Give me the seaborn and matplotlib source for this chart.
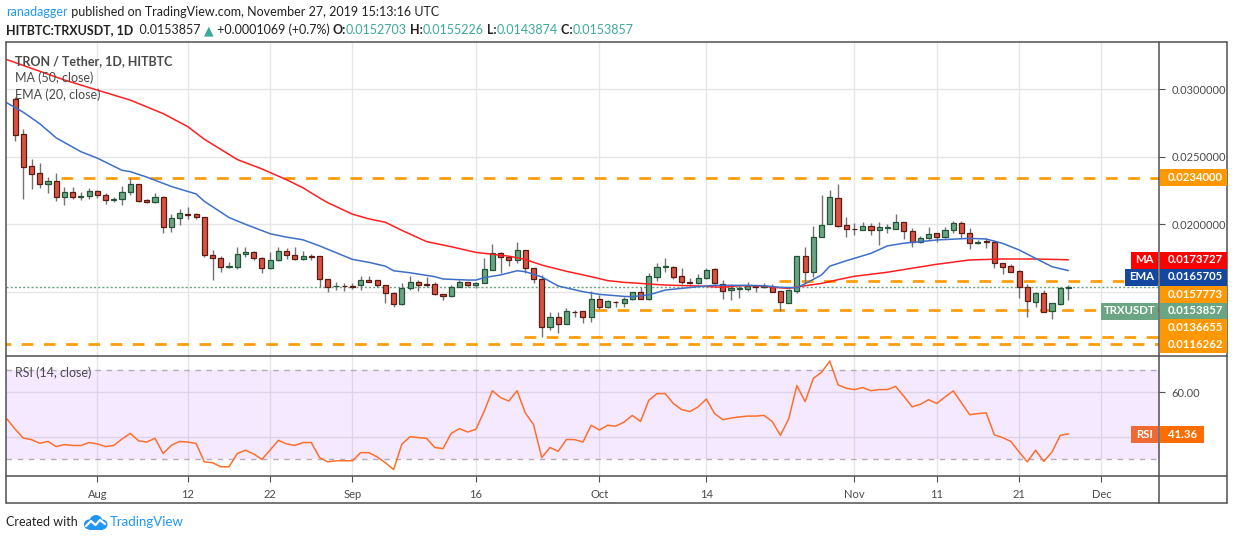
import numpy as np
import pandas as pd
import matplotlib
matplotlib.use("Agg")
import matplotlib.pyplot as plt
import matplotlib.dates as mdates
from matplotlib.patches import Rectangle, Circle
from matplotlib.lines import Line2D
import seaborn as sns

# ---------------- data ----------------
first_day = "2019-07-22"
opens = [0.02926, 0.02666, 0.02429, 0.02377, 0.02296, 0.02318, 0.02200, 0.02237, 0.02200, 0.02207,
         0.02244, 0.02215, 0.02178, 0.02185, 0.02237, 0.02296, 0.02178, 0.02163, 0.02200, 0.01978,
         0.02044, 0.02074, 0.02074, 0.02054, 0.01770, 0.01748, 0.01686, 0.01686, 0.01778, 0.01792,
         0.01748, 0.01679, 0.01733, 0.01800, 0.01770, 0.01741, 0.01765, 0.01763, 0.01592, 0.01543,
         0.01545, 0.01540, 0.01548, 0.01587, 0.01587, 0.01548, 0.01489, 0.01407, 0.01526, 0.01570,
         0.01555, 0.01555, 0.01483, 0.01471, 0.01538, 0.01570, 0.01548, 0.01564, 0.01662, 0.01785,
         0.01755, 0.01733, 0.01807, 0.01674, 0.01592, 0.01242, 0.01314, 0.01261, 0.01352, 0.01355,
         0.01316, 0.01447, 0.01385, 0.01425, 0.01419, 0.01444, 0.01496, 0.01444, 0.01612, 0.01686,
         0.01686, 0.01615, 0.01570, 0.01562, 0.01600, 0.01666, 0.01555, 0.01510, 0.01522, 0.01522,
         0.01545, 0.01535, 0.01538, 0.01503, 0.01420, 0.01508, 0.01765, 0.01649, 0.01908, 0.02000,
         0.02192, 0.01992, 0.01968, 0.01960, 0.01985, 0.01960, 0.01974, 0.01968, 0.02015, 0.01950,
         0.01871, 0.01896, 0.01933, 0.01903, 0.01960, 0.02010, 0.01938, 0.01863, 0.01873, 0.01871,
         0.01711, 0.01691, 0.01654, 0.01533, 0.01427, 0.01494, 0.01360, 0.01407, 0.0152703]
highs = [0.02945, 0.02703, 0.02484, 0.02454, 0.02348, 0.02377, 0.02274, 0.02274, 0.02237, 0.02266,
         0.02252, 0.02229, 0.02205, 0.02284, 0.02341, 0.02300, 0.02185, 0.02229, 0.02207, 0.02076,
         0.02116, 0.02128, 0.02081, 0.02056, 0.01807, 0.01763, 0.01723, 0.01829, 0.01829, 0.01800,
         0.01755, 0.01792, 0.01829, 0.01822, 0.01829, 0.01800, 0.01778, 0.01765, 0.01595, 0.01573,
         0.01564, 0.01564, 0.01615, 0.01615, 0.01590, 0.01550, 0.01501, 0.01564, 0.01615, 0.01587,
         0.01610, 0.01575, 0.01486, 0.01550, 0.01587, 0.01575, 0.01570, 0.01750, 0.01854, 0.01795,
         0.01765, 0.01869, 0.01810, 0.01680, 0.01624, 0.01353, 0.01350, 0.01378, 0.01366, 0.01360,
         0.01506, 0.01476, 0.01439, 0.01434, 0.01464, 0.01501, 0.01538, 0.01637, 0.01716, 0.01748,
         0.01690, 0.01674, 0.01605, 0.01630, 0.01674, 0.01674, 0.01587, 0.01555, 0.01548, 0.01573,
         0.01547, 0.01562, 0.01555, 0.01505, 0.01518, 0.01765, 0.01834, 0.01987, 0.02217, 0.02254,
         0.02299, 0.02057, 0.02007, 0.02017, 0.02012, 0.02017, 0.02000, 0.02076, 0.02017, 0.01970,
         0.01913, 0.01982, 0.01935, 0.01982, 0.02024, 0.02024, 0.01970, 0.01881, 0.01896, 0.01881,
         0.01715, 0.01703, 0.01661, 0.01558, 0.01501, 0.01513, 0.01420, 0.01538, 0.0155226]
lows = [0.02619, 0.02185, 0.02264, 0.02271, 0.02234, 0.02170, 0.02141, 0.02185, 0.02178, 0.02190,
        0.02193, 0.02153, 0.02163, 0.02141, 0.02215, 0.02163, 0.02155, 0.02155, 0.01938, 0.01945,
        0.01997, 0.02042, 0.02042, 0.01755, 0.01590, 0.01649, 0.01674, 0.01672, 0.01761, 0.01733,
        0.01637, 0.01672, 0.01728, 0.01741, 0.01733, 0.01733, 0.01733, 0.01538, 0.01501, 0.01513,
        0.01508, 0.01520, 0.01513, 0.01570, 0.01538, 0.01419, 0.01390, 0.01405, 0.01513, 0.01508,
        0.01538, 0.01476, 0.01439, 0.01464, 0.01533, 0.01533, 0.01526, 0.01564, 0.01660, 0.01642,
        0.01694, 0.01716, 0.01642, 0.01564, 0.01163, 0.01217, 0.01197, 0.01260, 0.01314, 0.01271,
        0.01278, 0.01373, 0.01380, 0.01390, 0.01390, 0.01440, 0.01444, 0.01437, 0.01582, 0.01649,
        0.01595, 0.01558, 0.01558, 0.01558, 0.01595, 0.01558, 0.01447, 0.01439, 0.01457, 0.01505,
        0.01498, 0.01526, 0.01500, 0.01360, 0.01420, 0.01494, 0.01568, 0.01612, 0.01905, 0.02000,
        0.01982, 0.01908, 0.01921, 0.01957, 0.01921, 0.01847, 0.01937, 0.01963, 0.01891, 0.01834,
        0.01863, 0.01891, 0.01871, 0.01900, 0.01933, 0.01896, 0.01817, 0.01851, 0.01825, 0.01674,
        0.01632, 0.01644, 0.01452, 0.01316, 0.01390, 0.01350, 0.01296, 0.01405, 0.0143874]
closes = [0.02659, 0.02422, 0.02375, 0.02296, 0.02318, 0.02200, 0.02237, 0.02205, 0.02212, 0.02244,
          0.02215, 0.02178, 0.02190, 0.02237, 0.02296, 0.02175, 0.02163, 0.02200, 0.01978, 0.02044,
          0.02081, 0.02072, 0.02052, 0.01770, 0.01748, 0.01686, 0.01688, 0.01778, 0.01792, 0.01748,
          0.01674, 0.01733, 0.01800, 0.01770, 0.01741, 0.01763, 0.01760, 0.01592, 0.01538, 0.01545,
          0.01540, 0.01538, 0.01587, 0.01575, 0.01548, 0.01489, 0.01407, 0.01526, 0.01570, 0.01553,
          0.01553, 0.01481, 0.01471, 0.01538, 0.01570, 0.01548, 0.01564, 0.01666, 0.01785, 0.01755,
          0.01733, 0.01807, 0.01674, 0.01592, 0.01242, 0.01316, 0.01261, 0.01355, 0.01350, 0.01316,
          0.01447, 0.01390, 0.01432, 0.01422, 0.01444, 0.01496, 0.01444, 0.01615, 0.01686, 0.01688,
          0.01612, 0.01575, 0.01566, 0.01600, 0.01661, 0.01562, 0.01508, 0.01531, 0.01531, 0.01545,
          0.01533, 0.01545, 0.01501, 0.01427, 0.01513, 0.01765, 0.01649, 0.01903, 0.01992, 0.02200,
          0.01987, 0.01968, 0.01963, 0.01985, 0.01960, 0.01977, 0.01977, 0.02015, 0.01950, 0.01871,
          0.01896, 0.01928, 0.01903, 0.01960, 0.02010, 0.01938, 0.01859, 0.01866, 0.01868, 0.01711,
          0.01686, 0.01649, 0.01533, 0.01432, 0.01494, 0.01353, 0.01415, 0.01528, 0.0153857]

# 50-day MA and 20-day EMA (day offset from first_day, value)
ma_day = [-1, 6, 10, 14, 16, 18, 21, 23, 27, 30, 33, 35, 37, 38, 41, 43, 45, 47, 50, 53, 56, 57,
          60, 62, 64, 67, 70, 72, 74, 77, 79, 83, 86, 88, 91, 92, 94, 96, 98, 100, 102, 106, 108,
          112, 116, 120, 124, 128]
ma_val = [0.03220, 0.03069, 0.02994, 0.02920, 0.02870, 0.02820, 0.02723, 0.02630, 0.02480, 0.02410,
          0.02330, 0.02270, 0.02195, 0.02160, 0.02075, 0.02040, 0.02015, 0.01955, 0.01872, 0.01834,
          0.01792, 0.01785, 0.01764, 0.01740, 0.01698, 0.01652, 0.01612, 0.01583, 0.01570, 0.01558,
          0.01550, 0.01543, 0.01533, 0.01545, 0.01543, 0.01533, 0.01526, 0.01545, 0.01562, 0.01590,
          0.01615, 0.01645, 0.01665, 0.01704, 0.01736, 0.01743, 0.01743, 0.0173727]
ema_day = [-1, 1, 3, 5, 8, 10, 13, 14, 16, 19, 22, 23, 26, 28, 31, 33, 35, 37, 41, 43, 45, 46, 48,
           51, 52, 55, 56, 57, 59, 61, 62, 64, 66, 69, 71, 74, 75, 77, 79, 83, 85, 89, 91, 93, 95,
           96, 98, 99, 101, 104, 106, 108, 112, 116, 118, 120, 122, 124, 126, 128]
ema_val = [0.02900, 0.02830, 0.02745, 0.02640, 0.02538, 0.02490, 0.02400, 0.02390, 0.02350, 0.02280,
           0.02225, 0.02170, 0.02050, 0.02000, 0.01930, 0.01905, 0.01885, 0.01840, 0.01740, 0.01718,
           0.01690, 0.01656, 0.01641, 0.01612, 0.01595, 0.01587, 0.01587, 0.01605, 0.01625, 0.01656,
           0.01649, 0.01610, 0.01543, 0.01501, 0.01481, 0.01466, 0.01464, 0.01477, 0.01513, 0.01538,
           0.01548, 0.01548, 0.01545, 0.01533, 0.01530, 0.01560, 0.01625, 0.01690, 0.01730, 0.01785,
           0.01840, 0.01860, 0.01884, 0.01896, 0.01891, 0.01859, 0.01810, 0.01748, 0.01686, 0.0165705]

# RSI(14), one value per day starting the day before first_day
rsi_first_day = "2019-07-21"
rsi_vals = [48.1, 43.5, 39.5, 38.8, 37.2, 38.0, 35.7, 36.6, 36.2, 36.2, 37.5, 36.9, 35.7, 36.2, 39.1,
            41.6, 38.3, 37.7, 39.4, 32.6, 36.3, 38.0, 37.7, 37.1, 28.9, 28.5, 26.7, 26.7, 32.6, 34.1,
            32.4, 30.0, 34.2, 38.5, 36.9, 36.2, 37.5, 37.5, 30.8, 28.9, 29.4, 29.4, 29.4, 33.0, 33.0,
            31.1, 28.5, 25.5, 36.8, 40.1, 39.7, 39.4, 35.3, 34.8, 41.6, 43.7, 42.2, 43.4, 51.4, 60.6,
            57.5, 56.0, 60.6, 50.7, 45.5, 30.8, 35.3, 33.6, 38.9, 38.8, 37.7, 45.2, 43.1, 45.2, 44.8,
            46.6, 49.6, 46.9, 56.3, 59.3, 59.3, 54.8, 52.2, 51.3, 53.4, 56.9, 50.4, 47.7, 48.4, 48.9,
            49.3, 49.3, 49.6, 46.9, 40.7, 48.0, 62.9, 55.7, 66.1, 68.8, 73.8, 63.2, 61.7, 61.1, 62.0,
            60.6, 61.1, 61.1, 62.5, 58.1, 53.4, 54.5, 56.6, 54.9, 57.8, 60.5, 55.2, 49.9, 50.4, 50.7,
            40.9, 39.7, 38.0, 33.3, 28.9, 34.1, 29.1, 33.3, 40.7, 41.36]

# horizontal levels drawn on the chart and the date each one starts at
level_vals = [0.0234000, 0.0157773, 0.0136655, 0.0116262, 0.0111300]
level_start = ["2019-07-27 14:00", "2019-10-22 19:00", "2019-09-30 10:00", "2019-09-21 19:00", "2019-07-20"]
level_labels = ["0.0234000", "0.0157773", "0.0136655", "0.0116262"]

time_ticks = ["2019-08-01", "2019-08-12", "2019-08-22", "2019-09-01", "2019-09-16", "2019-10-01",
              "2019-10-14", "2019-11-01", "2019-11-11", "2019-11-21", "2019-12-01"]
time_labels = ["Aug", "12", "22", "Sep", "16", "Oct", "14", "Nov", "11", "21", "Dec"]
price_ticks = [0.020, 0.025, 0.030]
price_grid = [0.015, 0.020, 0.025, 0.030]

# ---------------- figure ----------------
W, H = 1234, 540
sns.set_theme(style="white")
plt.rcParams['font.family'] = ['Lato', 'DejaVu Sans']

UP, UP_EDGE = "#6BA583", "#225437"
DN, DN_EDGE = "#D75442", "#5B1A13"
WICK = "#737375"
ORANGE = "#FF9800"
GRID = "#E6E6E6"
FRAME = "#4F4F4F"
TXT = "#4A4A4A"

fig = plt.figure(figsize=(W / 100, H / 100), dpi=100)
fig.patch.set_facecolor("white")


def fx(x):
    return x / W


def fy(y):
    return 1 - y / H


L, R = 6, 1159
ax = fig.add_axes([fx(L), fy(355), (R - L) / W, (355 - 42) / H])
axr = fig.add_axes([fx(L), fy(476), (R - L) / W, (476 - 355) / H], sharex=ax)

dates = pd.date_range(first_day, periods=len(opens), freq="D")
o = np.array(opens); h = np.array(highs); lo = np.array(lows); c = np.array(closes)
up = c >= o
x0 = pd.Timestamp("2019-08-01")
xlim = (mdates.date2num(x0 - pd.Timedelta(days=11.1)), mdates.date2num(x0 + pd.Timedelta(days=129.0)))
tick_dates = pd.to_datetime(time_ticks)

for a in (ax, axr):
    a.set_facecolor("white")
    for s in a.spines.values():
        s.set_visible(False)
    for t in tick_dates:
        a.axvline(t, color=GRID, lw=1, zorder=0)

for g in price_grid:
    ax.axhline(g, color=GRID, lw=1, zorder=0)

# levels
for v, s in zip(level_vals, level_start):
    ax.hlines(v, mdates.date2num(pd.Timestamp(s)), xlim[1], color=ORANGE, lw=2.0,
              linestyles=[(0, (4.2, 3.8))], zorder=1, alpha=0.95)

# last price dotted line
ax.axhline(closes[-1], color=UP, lw=1, ls=(0, (1.5, 1.5)), zorder=1.5)

# candles
ax.vlines(dates, lo, h, color=WICK, lw=1.0, zorder=2)
body_lo = np.minimum(o, c); body_h = np.abs(c - o)
ax.bar(dates[up], body_h[up], bottom=body_lo[up], width=0.62, color=UP, edgecolor=UP_EDGE,
       linewidth=0.9, zorder=3)
ax.bar(dates[~up], body_h[~up], bottom=body_lo[~up], width=0.62, color=DN, edgecolor=DN_EDGE,
       linewidth=0.9, zorder=3)

# MA / EMA
ma_dates = pd.Timestamp(first_day) + pd.to_timedelta(ma_day, unit="D")
ema_dates = pd.Timestamp(first_day) + pd.to_timedelta(ema_day, unit="D")
sns.lineplot(x=ma_dates, y=ma_val, ax=ax, color="#FF1F1F", lw=1.1, zorder=4)
sns.lineplot(x=ema_dates, y=ema_val, ax=ax, color="#3D6FC9", lw=1.1, zorder=4)

ax.set_xlim(*xlim)
ax.set_ylim(0.010319, 0.033504)
ax.yaxis.tick_right()
ax.set_yticks(price_ticks)
ax.set_yticklabels([f"{v:.7f}" for v in price_ticks])
ax.tick_params(axis="y", right=True, left=False, length=4, width=0.8, color=FRAME, pad=5,
               labelsize=8, labelcolor=TXT)
ax.tick_params(axis="x", bottom=False, labelbottom=False)
ax.set_xlabel(""); ax.set_ylabel("")

# RSI pane
axr.axhspan(30, 70, color="#9915FF", alpha=0.09, lw=0, zorder=1)
for g in (40, 60):
    axr.axhline(g, color="#DCD3E6", lw=1, zorder=1.2)
for g in (30, 70):
    axr.axhline(g, color="#B3ABBC", lw=1, ls=(0, (4, 4)), zorder=1.3)
rsi_dates = pd.date_range(rsi_first_day, periods=len(rsi_vals), freq="D")
sns.lineplot(x=rsi_dates, y=rsi_vals, ax=axr, color="#FF6F2C", lw=1.1, zorder=3)
axr.set_ylim(22.6, 76.5)
axr.yaxis.tick_right()
axr.set_yticks([60])
axr.set_yticklabels(["60.00"])
axr.tick_params(axis="y", right=True, left=False, length=4, width=0.8, color=FRAME, pad=5,
                labelsize=8, labelcolor=TXT)
axr.set_xticks(tick_dates)
axr.set_xticklabels(time_labels)
axr.tick_params(axis="x", bottom=True, length=4, width=0.8, color=FRAME, pad=5,
                labelsize=8, labelcolor=TXT)
axr.set_xlim(*xlim)
axr.set_xlabel(""); axr.set_ylabel("")

# frame lines
def fline(xa, ya, xb, yb, **kw):
    fig.add_artist(Line2D([fx(xa), fx(xb)], [fy(ya), fy(yb)], color=FRAME, lw=1.1, **kw))

fline(6, 42, 1227, 42); fline(6, 503, 1227, 503)
fline(6, 42, 6, 503); fline(1227, 42, 1227, 503)
fline(6, 355.5, 1227, 355.5); fline(6, 476, 1227, 476)
fline(1159, 42, 1159, 503)

# price label boxes
def box(xa, xb, yc, color, text, hh=17, align="left", tx=None):
    fig.add_artist(Rectangle((fx(xa), fy(yc + hh / 2)), (xb - xa) / W, hh / H,
                             facecolor=color, edgecolor="none", zorder=10))
    if align == "left":
        fig.text(fx(tx if tx else xa + 8), fy(yc), text, color="white", fontsize=8.2,
                 fontweight="bold", ha="left", va="center", zorder=11)
    else:
        fig.text(fx((xa + xb) / 2), fy(yc), text, color="white", fontsize=8.2,
                 fontweight="bold", ha="center", va="center", zorder=11)

box(1160, 1227, 177.7, ORANGE, level_labels[0])
box(1131, 1158, 260, "#FF0000", "MA", align="center")
box(1160, 1227, 260, "#FF0000", "0.0173727")
box(1125, 1158, 277, "#1447A0", "EMA", align="center")
box(1160, 1227, 277, "#1447A0", "0.0165705")
box(1160, 1227, 294, ORANGE, level_labels[1])
box(1101, 1158, 311, "#6BA583", "TRXUSDT", align="center")
box(1160, 1227, 311, "#6BA583", f"{closes[-1]:.7f}")
box(1160, 1227, 327.7, ORANGE, level_labels[2])
box(1160, 1227, 344.3, ORANGE, level_labels[3])
box(1131, 1158, 434.3, "#F26A33", "RSI", align="center")
box(1160, 1204, 434.3, "#FF6D00", f"{rsi_vals[-1]:.2f}")

# legend texts inside panes
fig.text(fx(15), fy(61), "TRON / Tether, 1D, HITBTC", color=TXT, fontsize=9, fontweight="bold",
         va="center", ha="left")
fig.text(fx(15), fy(78), "MA (50, close)", color=TXT, fontsize=9, va="center", ha="left")
fig.text(fx(15), fy(95), "EMA (20, close)", color=TXT, fontsize=9, va="center", ha="left")
fig.text(fx(15), fy(373), "RSI (14, close)", color=TXT, fontsize=9, va="center", ha="left")

# header lines
renderer = fig.canvas.get_renderer()


def chain(x, y, parts, size=9):
    for s, col, wt in parts:
        t = fig.text(fx(x), fy(y), s, color=col, fontsize=size, fontweight=wt, va="center", ha="left")
        x += t.get_window_extent(renderer=renderer).width
    return x

TEAL = "#3BAA9C"
DARK = "#222222"
chain(6, 12, [("ranadagger", "#2196F3", "normal"),
              (" published on TradingView.com, November 27, 2019 15:13:16 UTC", DARK, "normal")])
chain(6, 30, [("HITBTC:TRXUSDT, 1D", DARK, "bold"),
              ("  0.0153857 ", DARK, "normal"), ("▲", TEAL, "normal"),
              (" +0.0001069 (+0.7%) ", DARK, "normal"),
              ("O:", DARK, "bold"), ("0.0152703", TEAL, "normal"),
              (" H:", DARK, "bold"), ("0.0155226", TEAL, "normal"),
              (" L:", DARK, "bold"), ("0.0143874", TEAL, "normal"),
              (" C:", DARK, "bold"), ("0.0153857", TEAL, "normal")])

# footer
fig.text(fx(6), fy(522), "Created with", color=DARK, fontsize=9, va="center", ha="left")
lax = fig.add_axes([fx(83), fy(530), 25 / W, 16 / H])
lax.set_xlim(0, 25); lax.set_ylim(0, 16); lax.axis("off")
for (cx, cy, r) in [(6, 5.5, 5), (13, 8.5, 6.5), (19.5, 5.5, 5)]:
    lax.add_patch(Circle((cx, cy), r, color="#2196F3", lw=0))
lax.add_patch(Rectangle((6, 0.5), 13.5, 6, color="#2196F3", lw=0))
lax.plot([3, 8, 12.5, 17, 22], [4, 9, 5, 10, 6], color="white", lw=1.6, solid_capstyle="round")
fig.text(fx(110), fy(522), "TradingView", color="#2196F3", fontsize=9.5, va="center", ha="left")

fig.savefig("out.png", dpi=100, facecolor="white")
